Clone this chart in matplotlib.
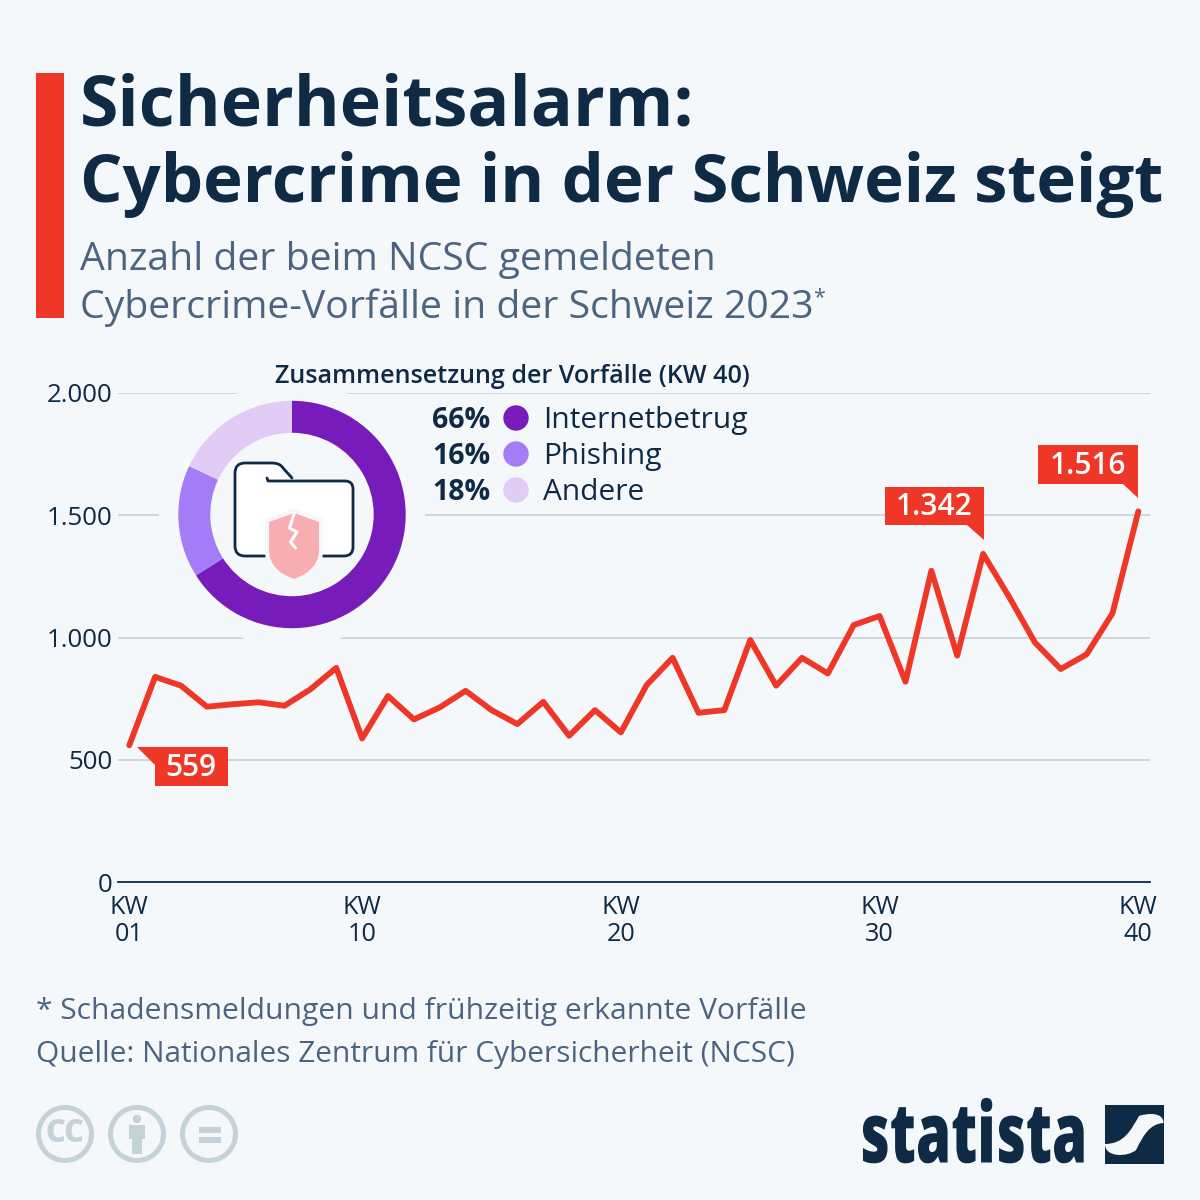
import matplotlib
matplotlib.use("Agg")
import matplotlib.pyplot as plt
from matplotlib.patches import Circle, PathPatch, Polygon, Rectangle
from matplotlib.path import Path
from matplotlib.patheffects import AbstractPathEffect
from matplotlib.transforms import Affine2D

weeks = list(range(1, 41))
incidents = [559, 839, 803, 717, 727, 735, 721, 788, 876, 587,
             761, 665, 714, 782, 703, 646, 737, 598, 703, 612,
             806, 917, 692, 703, 990, 803, 917, 853, 1051, 1088,
             819, 1273, 926, 1342, 1167, 980, 871, 931, 1099, 1516]
y_ticks = [0, 500, 1000, 1500, 2000]
y_tick_labels = ["0", "500", "1.000", "1.500", "2.000"]
x_ticks = [1, 10, 20, 30, 40]
x_tick_labels = ["KW\n01", "KW\n10", "KW\n20", "KW\n30", "KW\n40"]
categories = ["Internetbetrug", "Phishing", "Andere"]
shares = [66, 16, 18]

BG = "#f5f8fb"
NAVY = "#0f2a45"
SLATE = "#4c6480"
RED = "#ee3727"
GRID = "#c4ccd6"
ICON = "#c6d2da"
donut_colors = ["#771cba", "#a57cf8", "#e0ccf5"]

plt.rcParams["font.family"] = ["Open Sans", "DejaVu Sans"]

fig = plt.figure(figsize=(12, 12), dpi=100, facecolor=BG)


def px_axes(left, top, right, bottom, **kw):
    return fig.add_axes([left / 1200, 1 - bottom / 1200, (right - left) / 1200, (bottom - top) / 1200], **kw)


class SqueezeX(AbstractPathEffect):
    # narrows the glyphs around a fixed pixel column, the logo type is condensed
    def __init__(self, anchor, factor):
        super().__init__()
        self.anchor = anchor
        self.factor = factor

    def draw_path(self, renderer, gc, tpath, affine, rgbFace=None):
        squeeze = Affine2D().translate(-self.anchor, 0).scale(self.factor, 1).translate(self.anchor, 0)
        renderer.draw_path(gc, tpath, affine + squeeze, rgbFace)


# line chart
ax = px_axes(118, 393, 1150, 882, zorder=1)
ax.set_facecolor("none")
ax.set_xlim(0.565, 40.45)
ax.set_ylim(0, 2000)
ax.plot(weeks, incidents, color=RED, lw=4.2, solid_joinstyle="round", solid_capstyle="round", zorder=3)
ax.set_yticks(y_ticks, y_tick_labels, fontsize=18.6, color=NAVY)
ax.set_xticks(x_ticks, x_tick_labels, fontsize=18.2, color=NAVY, linespacing=1.13)
ax.tick_params(axis="both", length=0)
ax.tick_params(axis="y", pad=4.2)
ax.tick_params(axis="x", pad=9)
ax.grid(axis="y", color=GRID, lw=1.1)
ax.set_axisbelow(True)
for side in ["top", "right", "left"]:
    ax.spines[side].set_visible(False)
ax.spines["bottom"].set_color(NAVY)
ax.spines["bottom"].set_linewidth(1.3)

# everything else is placed in pixel coordinates
ov = px_axes(0, 0, 1200, 1200, zorder=2)
ov.set_xlim(0, 1200)
ov.set_ylim(1200, 0)
ov.axis("off")

ov.add_patch(Rectangle((36, 73), 28, 245, color=RED, lw=0))
ov.text(80, 125, "Sicherheitsalarm:", fontsize=50.3, fontweight="bold", color=NAVY)
ov.text(80, 202, "Cybercrime in der Schweiz steigt", fontsize=48.25, fontweight="bold", color=NAVY)
ov.text(80, 270, "Anzahl der beim NCSC gemeldeten", fontsize=28.3, color=SLATE)
ov.text(80, 318, "Cybercrime-Vorfälle in der Schweiz 2023", fontsize=28.3, color=SLATE)
ov.text(813, 303, "*", fontsize=15.5, color=SLATE)

ov.text(36, 1019.5, "* Schadensmeldungen und frühzeitig erkannte Vorfälle", fontsize=21.57, color=SLATE)
ov.text(36, 1062, "Quelle: Nationales Zentrum für Cybersicherheit (NCSC)", fontsize=21.55, color=SLATE)


def callout(week, value, box, tail, label):
    # box and tail are pixel offsets from the data point
    px, py = ax.transData.transform((week, value))
    py = 1200 - py
    x0, y0, x1, y1 = box
    ov.add_patch(Rectangle((px + x0, py + y0), x1 - x0, y1 - y0, color=RED, lw=0, zorder=5))
    ov.add_patch(Polygon([(px + a, py + b) for a, b in tail], color=RED, lw=0, zorder=5))
    ov.text(px + (x0 + x1) / 2 - 0.5, py + (y0 + y1) / 2 - 2, label, color="white", fontsize=21.5,
            fontweight=600, ha="center", va="center_baseline", zorder=6)


callout(1, incidents[0], (26, 2, 99, 41), [(8, 2), (26, 2), (26, 20)], "559")
callout(34, incidents[33], (-98, -67, 1, -29), [(-16, -29), (1, -29), (1, -14)], "1.342")
callout(40, incidents[39], (-100, -66, 0, -27.5), [(-15, -27.5), (0, -27.5), (0, -13)], "1.516")

# donut with its cut-out in the grid
ov.add_patch(Circle((292, 514.5), 133, color=BG, lw=0, zorder=1))
dax = px_axes(292 - 113.7, 514.5 - 113.7, 292 + 113.7, 514.5 + 113.7, zorder=3)
dax.pie(shares, colors=donut_colors, startangle=90, counterclock=False,
        wedgeprops={"width": 32 / 113.7, "linewidth": 0})
dax.set_xlim(-1, 1)
dax.set_ylim(-1, 1)

# folder icon
ov.add_patch(Polygon([(235, 470), (240, 463), (280, 463), (292, 481), (350, 481), (353, 486), (353, 550),
                      (348, 556), (240, 556), (235, 550)], fc="white", ec="none", zorder=2))
folder_right = Path(
    [(267, 478), (268, 481), (345, 481), (353, 481), (353, 489), (353, 547), (353, 556), (344, 556), (323, 556)],
    [Path.MOVETO, Path.LINETO, Path.LINETO, Path.CURVE3, Path.CURVE3, Path.LINETO, Path.CURVE3, Path.CURVE3, Path.LINETO])
folder_left = Path(
    [(266, 556), (245, 556), (235, 556), (235, 546), (235, 473), (235, 463), (245, 463), (272, 463), (280, 463),
     (283, 468), (292, 478)],
    [Path.MOVETO, Path.LINETO, Path.CURVE3, Path.CURVE3, Path.LINETO, Path.CURVE3, Path.CURVE3, Path.LINETO,
     Path.CURVE3, Path.CURVE3, Path.LINETO])
for part in (folder_right, folder_left):
    ov.add_patch(PathPatch(part, fc="none", ec=NAVY, lw=2, zorder=2.2, capstyle="round", joinstyle="round"))

shield = Path(
    [(294, 513), (319, 522), (319, 550), (319, 570), (294, 579), (269, 570), (269, 550), (269, 522), (294, 513)],
    [Path.MOVETO, Path.LINETO, Path.LINETO, Path.CURVE3, Path.CURVE3, Path.CURVE3, Path.CURVE3, Path.LINETO, Path.CLOSEPOLY])
ov.add_patch(PathPatch(shield, fc=BG, ec=BG, lw=6, zorder=3))
ov.add_patch(PathPatch(shield, fc="#f8adb0", ec="none", zorder=3.1))
ov.plot([294, 289.5, 297, 290.5, 295.5], [514, 528, 532, 542, 548], color="white", lw=2.2, zorder=3.2,
        solid_capstyle="round", solid_joinstyle="round")

# donut legend
ov.text(512.5, 383, "Zusammensetzung der Vorfälle (KW 40)", fontsize=18.05, fontweight=600, color=NAVY, ha="center")
for row, (cat, share, col) in enumerate(zip(categories, shares, donut_colors)):
    y = 418 + row * 36
    ov.text(490, y + 10, f"{share}%", fontsize=20.5, fontweight="bold", color=NAVY, ha="right")
    ov.add_patch(Circle((516, y), 12.7, color=col, lw=0))
    ov.text(543, y + 10, cat, fontsize=21.55, color=NAVY)

# licence icons
for cx in (65, 137, 209):
    ov.add_patch(Circle((cx, 1134), 26.5, fc="none", ec=ICON, lw=3.6))
ov.text(65, 1134.5, "CC", fontsize=22, fontweight=800, color=ICON, ha="center", va="center")
ov.add_patch(Circle((137, 1119), 4.2, color=ICON, lw=0))
ov.add_patch(Polygon([(129, 1125), (145, 1125), (145, 1139), (142, 1139), (142, 1154), (132, 1154), (132, 1139), (129, 1139)],
                     color=ICON, lw=0))
ov.add_patch(Rectangle((199, 1127), 22, 5.5, color=ICON, lw=0))
ov.add_patch(Rectangle((199, 1137), 22, 5.5, color=ICON, lw=0))

# statista logo
ov.text(1087.5, 1162.5, "statista", fontsize=60, fontweight=800, color=NAVY, ha="right",
        path_effects=[SqueezeX(1087.5, 0.68)])
ov.add_patch(Rectangle((1105, 1105), 58.5, 58.5, color=NAVY, lw=0))
swoosh = Path(
    [(1105, 1144), (1124, 1144), (1131, 1130), (1139, 1116), (1148, 1113), (1163.5, 1112),
     (1163.5, 1123), (1150, 1124), (1144, 1134), (1136, 1150), (1128, 1157), (1105, 1158), (1105, 1144)],
    [Path.MOVETO, Path.CURVE4, Path.CURVE4, Path.CURVE4, Path.CURVE4, Path.CURVE4,
     Path.LINETO, Path.CURVE4, Path.CURVE4, Path.CURVE4, Path.CURVE4, Path.CURVE4, Path.CLOSEPOLY])
ov.add_patch(PathPatch(swoosh, fc=BG, ec="none", zorder=3))

fig.savefig("out.png", dpi=100, facecolor=BG)
